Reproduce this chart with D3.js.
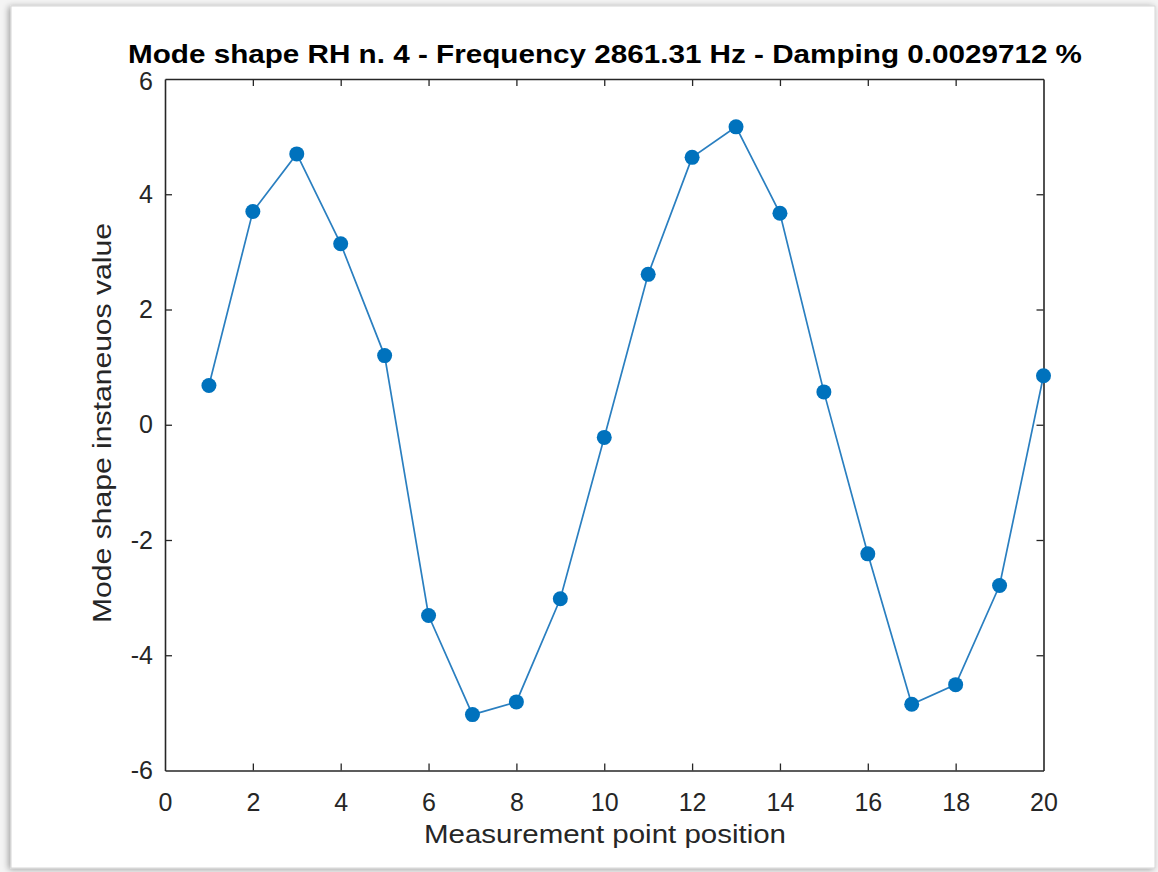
<!DOCTYPE html>
<html>
<head>
<meta charset="utf-8">
<script src="https://cdn.jsdelivr.net/npm/d3@7/dist/d3.min.js"></script>
<style>
  html, body { margin: 0; padding: 0; background: #ffffff; }
  svg { display: block; }
  text { font-family: "Liberation Sans", Arial, Helvetica, sans-serif; }
</style>
</head>
<body>
<svg id="chart" width="1158" height="872"></svg>
<script>
// Measurement point positions along the rail
const positions = [1, 2, 3, 4, 5, 6, 7, 8, 9, 10, 11, 12, 13, 14, 15, 16, 17, 18, 19, 20];
// Instantaneous mode shape value at each point
const modeValues = [0.68, 3.70, 4.70, 3.14, 1.20, -3.31, -5.03, -4.81, -3.02, -0.22,
                    2.61, 4.64, 5.17, 3.67, 0.57, -2.24, -4.85, -4.51, -2.79, 0.85];
const xTicks = [0, 2, 4, 6, 8, 10, 12, 14, 16, 18, 20];
const yTicks = [-6, -4, -2, 0, 2, 4, 6];

const titleText = "Mode shape RH n. 4 - Frequency 2861.31 Hz - Damping 0.0029712 %";
const xLabel = "Measurement point position";
const yLabel = "Mode shape instaneuos value";

const svg = d3.select("#chart");
const W = 1158, H = 872;

// soft drop shadow around the figure frame
const defs = svg.append("defs");
const f = defs.append("filter").attr("id", "shadow")
  .attr("x", "-5%").attr("y", "-5%").attr("width", "110%").attr("height", "110%");
f.append("feGaussianBlur").attr("in", "SourceAlpha").attr("stdDeviation", 3).attr("result", "b");
f.append("feOffset").attr("in", "b").attr("dx", -2).attr("dy", 1).attr("result", "o");
f.append("feComponentTransfer").attr("in", "o").attr("result", "s")
  .append("feFuncA").attr("type", "linear").attr("slope", 0.35);
const fm = f.append("feMerge");
fm.append("feMergeNode").attr("in", "s");
fm.append("feMergeNode").attr("in", "SourceGraphic");

svg.append("rect").attr("x", 0).attr("y", 0).attr("width", W).attr("height", H).attr("fill", "#f4f4f4");
svg.append("rect")
  .attr("x", 11).attr("y", 6).attr("width", 1144).attr("height", 862)
  .attr("fill", "#ffffff").attr("stroke", "#d6d6d6").attr("stroke-width", 1)
  .attr("filter", "url(#shadow)");

const plot = { left: 165, right: 1043.5, top: 79, bottom: 770.5 };

const x = d3.scaleLinear().domain([0, 20]).range([plot.left, plot.right]);
const y = d3.scaleLinear().domain([-6, 6]).range([plot.bottom, plot.top]);

const axisColor = "#262626";
const tickLen = 7;
const plainNumber = d => String(d);

// axes with inward ticks on all four sides (boxed plot)
const gBottom = svg.append("g").attr("transform", `translate(0,${plot.bottom})`)
  .call(d3.axisBottom(x).tickValues(xTicks).tickFormat(plainNumber)
    .tickSizeInner(-tickLen).tickSizeOuter(0).tickPadding(23));
const gTop = svg.append("g").attr("transform", `translate(0,${plot.top})`)
  .call(d3.axisTop(x).tickValues(xTicks).tickSizeInner(-tickLen).tickSizeOuter(0).tickFormat(""));
const gLeft = svg.append("g").attr("transform", `translate(${plot.left},0)`)
  .call(d3.axisLeft(y).tickValues(yTicks).tickFormat(plainNumber)
    .tickSizeInner(-tickLen).tickSizeOuter(0).tickPadding(12));
const gRight = svg.append("g").attr("transform", `translate(${plot.right},0)`)
  .call(d3.axisRight(y).tickValues(yTicks).tickSizeInner(-tickLen).tickSizeOuter(0).tickFormat(""));

[gBottom, gTop, gLeft, gRight].forEach(g => {
  g.select(".domain").attr("stroke", axisColor).attr("stroke-width", 1.6);
  g.selectAll(".tick line").attr("stroke", axisColor).attr("stroke-width", 1.3);
  g.selectAll(".tick text")
    .attr("fill", axisColor)
    .style("font-size", "25px")
    .style("font-family", '"Liberation Sans", Arial, sans-serif');
});
// drop the tick marks that would sit on the box corners
[gBottom, gTop].forEach(g => g.selectAll(".tick").filter(d => d === 0 || d === 20).select("line").remove());
[gLeft, gRight].forEach(g => g.selectAll(".tick").filter(d => d === -6 || d === 6).select("line").remove());
gBottom.selectAll(".tick text").attr("dy", "0.71em");
gLeft.selectAll(".tick text").filter(d => d === 6).attr("dy", "0.4em");

// series line
const line = d3.line().x((d, i) => x(positions[i])).y(d => y(d));
svg.append("path")
  .datum(modeValues)
  .attr("fill", "none")
  .attr("stroke", "#2a7fc0")
  .attr("stroke-width", 1.7)
  .attr("d", line);

// markers
svg.append("g").selectAll("circle")
  .data(modeValues)
  .join("circle")
  .attr("cx", (d, i) => x(positions[i]))
  .attr("cy", d => y(d))
  .attr("r", 7.5)
  .attr("fill", "#0072BD");

// title
svg.append("text")
  .attr("x", 128)
  .attr("y", 63)
  .attr("textLength", 954)
  .attr("lengthAdjust", "spacingAndGlyphs")
  .attr("fill", "#000000")
  .style("font-size", "25px")
  .style("font-weight", "bold")
  .text(titleText);

// x axis label
svg.append("text")
  .attr("x", 424)
  .attr("y", 843)
  .attr("textLength", 362)
  .attr("lengthAdjust", "spacingAndGlyphs")
  .attr("fill", axisColor)
  .style("font-size", "26px")
  .text(xLabel);

// y axis label
svg.append("text")
  .attr("transform", `translate(111,623) rotate(-90)`)
  .attr("textLength", 400)
  .attr("lengthAdjust", "spacingAndGlyphs")
  .attr("fill", axisColor)
  .style("font-size", "26px")
  .text(yLabel);
</script>
</body>
</html>
